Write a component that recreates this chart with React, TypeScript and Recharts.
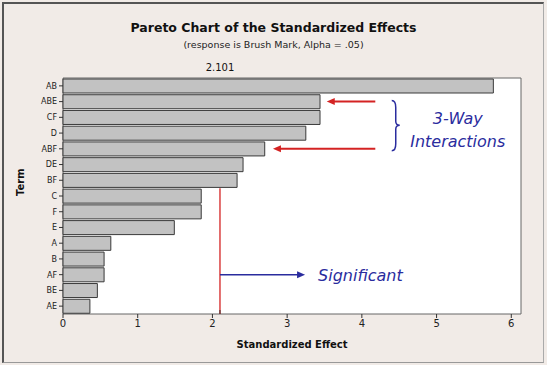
import React from 'react';
import {
  BarChart,
  Bar,
  XAxis,
  YAxis,
  CartesianGrid,
  ReferenceLine,
  ReferenceArea,
} from 'recharts';

// Terms in Pareto order (largest effect first)
const terms = ['AB', 'ABE', 'CF', 'D', 'ABF', 'DE', 'BF', 'C', 'F', 'E', 'A', 'B', 'AF', 'BE', 'AE'];
const effects = [5.76, 3.44, 3.44, 3.25, 2.7, 2.41, 2.33, 1.85, 1.85, 1.49, 0.64, 0.55, 0.55, 0.46, 0.36];
const xTicks = [0, 1, 2, 3, 4, 5, 6];
const xMax = 6.13;
const critical = 2.101;

const data = terms.map((term, i) => ({ term, effect: effects[i] }));

// the red line is only visible below the last bar that crosses it
const firstBelow = effects.findIndex((v) => v < critical);
const belowRows = terms.length - 1 - firstBelow;

const FONT = 'Tahoma, "DejaVu Sans", sans-serif';
const RED = '#d42323';
const BLUE = '#2a2c9e';

interface SegProps {
  x1?: number;
  y1?: number;
  x2?: number;
  y2?: number;
}

// line with a filled head at the second point
function arrow(color: string, width: number, text?: string) {
  return ({ x1 = 0, y1 = 0, x2 = 0, y2 = 0 }: SegProps) => {
    const dir = x2 > x1 ? 1 : -1;
    const head = 8;
    return (
      <g>
        <line x1={x1} y1={y1} x2={x2 - dir * head * 0.6} y2={y2} stroke={color} strokeWidth={width} />
        <polygon
          points={`${x2},${y2} ${x2 - dir * head},${y2 - 3.5} ${x2 - dir * head},${y2 + 3.5}`}
          fill={color}
        />
        {text && (
          <text x={x2 + 13} y={y2 + 6} fill={BLUE} fontSize={16} fontStyle="italic" fontFamily={FONT}>
            {text}
          </text>
        )}
      </g>
    );
  };
}

function BraceShape({ x1 = 0, y1 = 0, y2 = 0 }: SegProps) {
  const x = x1;
  const ym = (y1 + y2) / 2;
  const d = `M${x},${y1 - 1} Q${x + 4},${y1 - 1} ${x + 4},${y1 + 6} L${x + 4},${ym - 4} Q${x + 4},${ym} ${x + 8},${ym} Q${x + 4},${ym} ${x + 4},${ym + 4} L${x + 4},${y2 - 5} Q${x + 4},${y2 + 2} ${x},${y2 + 2}`;
  return (
    <g>
      <path d={d} fill="none" stroke={BLUE} strokeWidth={1.5} />
      <text x={x + 66} y={ym - 1} textAnchor="middle" fill={BLUE} fontSize={16} fontStyle="italic" fontFamily={FONT}>
        3-Way
      </text>
      <text x={x + 66} y={ym + 22} textAnchor="middle" fill={BLUE} fontSize={16} fontStyle="italic" fontFamily={FONT}>
        Interactions
      </text>
    </g>
  );
}

// small tick above the frame marking the critical value
function CriticalTick({ x1 = 0, y1 = 0 }: SegProps) {
  return <line x1={x1} y1={y1 - 4} x2={x1} y2={y1} stroke="#333" strokeWidth={1} />;
}

// segment runs between row centres; stretch it half a band each way
function CriticalLine({ x1 = 0, y1 = 0, y2 = 0 }: SegProps) {
  const band = belowRows > 0 ? (y2 - y1) / belowRows : 15.6;
  return (
    <line x1={x1} y1={y1 - band / 2} x2={x1} y2={y2 + band / 2} stroke={RED} strokeWidth={1.3} />
  );
}

export default function App() {
  return (
    <div
      style={{
        position: 'absolute',
        left: 0,
        top: 0,
        width: 547,
        height: 365,
        background: '#f1ebe7',
        fontFamily: FONT,
      }}
    >
      <div
        style={{
          position: 'absolute',
          left: 2,
          top: 2,
          width: 539,
          height: 358,
          borderTop: '2px solid #555',
          borderLeft: '2px solid #555',
          borderRight: '1px solid #aaa',
          borderBottom: '1px solid #999',
        }}
      />
      <div
        style={{
          position: 'absolute',
          left: 0,
          width: 547,
          top: 20,
          textAlign: 'center',
          fontSize: 12.5,
          fontWeight: 'bold',
          color: '#111',
        }}
      >
        Pareto Chart of the Standardized Effects
      </div>
      <div
        style={{
          position: 'absolute',
          left: 0,
          width: 547,
          top: 39,
          textAlign: 'center',
          fontSize: 9.5,
          color: '#222',
        }}
      >
        (response is Brush Mark, Alpha = .05)
      </div>
      <BarChart
        width={547}
        height={365}
        data={data}
        layout="vertical"
        margin={{ top: 78, right: 26, bottom: 0, left: 0 }}
        barCategoryGap={1}
        style={{ position: 'absolute', left: 0, top: 0 }}
      >
        <CartesianGrid horizontal={false} vertical={false} fill="#ffffff" />
        <XAxis
          type="number"
          domain={[0, xMax]}
          ticks={xTicks}
          height={51}
          tickSize={4}
          axisLine={false}
          tickLine={{ stroke: '#333' }}
          tick={{ fill: '#222', fontSize: 10, fontFamily: FONT }}
          label={{
            value: 'Standardized Effect',
            position: 'insideBottom',
            offset: 17,
            fill: '#111',
            fontSize: 10,
            fontWeight: 'bold',
            fontFamily: FONT,
          }}
        />
        <YAxis
          type="category"
          dataKey="term"
          width={63}
          tickSize={4}
          axisLine={false}
          tickLine={{ stroke: '#333' }}
          tick={{ fill: '#222', fontSize: 8, fontFamily: FONT }}
          interval={0}
          label={{
            value: 'Term',
            angle: -90,
            position: 'insideLeft',
            offset: 20,
            fill: '#111',
            fontSize: 10,
            fontWeight: 'bold',
            fontFamily: FONT,
          }}
        />
        <Bar
          dataKey="effect"
          fill="#c2c2c2"
          stroke="#3a3a3a"
          strokeWidth={1}
          isAnimationActive={false}
        />
        <ReferenceLine
          segment={[
            { x: critical, y: terms[firstBelow] },
            { x: critical, y: terms[terms.length - 1] },
          ]}
          shape={CriticalLine}
        />
        <ReferenceLine
          x={critical}
          shape={CriticalTick}
          label={{ value: '2.101', position: 'top', offset: 7, fill: '#111', fontSize: 10, fontFamily: FONT }}
        />
        <ReferenceArea x1={0} x2={xMax} fill="none" stroke="#666" strokeWidth={1} ifOverflow="visible" />
        <ReferenceLine
          segment={[{ x: 4.18, y: 'ABE' }, { x: 3.53, y: 'ABE' }]}
          shape={arrow(RED, 2)}
        />
        <ReferenceLine
          segment={[{ x: 4.18, y: 'ABF' }, { x: 2.81, y: 'ABF' }]}
          shape={arrow(RED, 2)}
        />
        <ReferenceLine segment={[{ x: 4.4, y: 'ABE' }, { x: 4.4, y: 'ABF' }]} shape={BraceShape} />
        <ReferenceLine
          segment={[{ x: critical, y: 'AF' }, { x: 3.24, y: 'AF' }]}
          shape={arrow(BLUE, 1.5, 'Significant')}
        />
      </BarChart>
    </div>
  );
}
